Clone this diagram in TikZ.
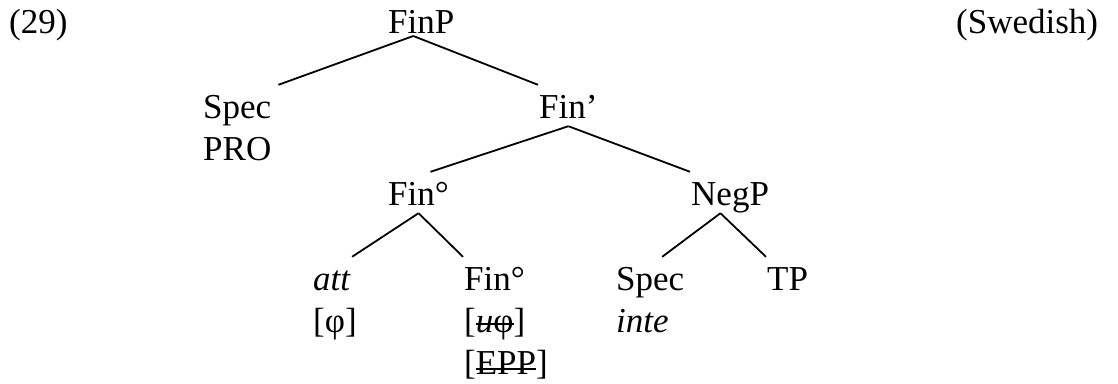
\documentclass[tikz,border=0pt]{standalone}
\usepackage{fontspec}
\setmainfont{Liberation Serif}
\usetikzlibrary{positioning}
\newsavebox{\strkbox}
\newcommand{\strk}[2][0.2em]{\sbox{\strkbox}{#2}\rlap{\rule[#1]{\wd\strkbox}{1.8pt}}\usebox{\strkbox}}

\begin{document}
\begin{tikzpicture}[x=1pt, y=-1pt,
            lbl/.style = {inner sep=1pt, text height=32pt, text depth=7pt,
                anchor=base west, font=\fontsize{35}{42}\selectfont},
            sub/.style = {below=42pt of #1, anchor=base west},
            branch/.style = {draw, line width=1.8pt}]
            \useasboundingbox (0,0) rectangle (1118,383);
            \node[lbl] (num) at (8,33) {(29)};
            \node[lbl] (lang) at (955,33) {(Swedish)};
            \node[lbl] (finp) at (387,33) {FinP};
            \node[lbl] (spec1) at (202,118) {Spec};
            \node[lbl, sub=spec1.base west] (pro) {PRO};
            \node[lbl] (fin1) at (538,118) {Fin’};
            \node[lbl] (fin0) at (387,205) {Fin°};
            \node[lbl] (negp) at (690,205) {NegP};
            \node[lbl] (att) at (312,290) {\textit{att}};
            \node[lbl, sub=att.base west] (phi) {[φ]};
            \node[lbl] (fin00) at (463,290) {Fin°};
            \node[lbl, sub=fin00.base west] (uphi) {[\strk{\textit{u}φ}]};
            \node[lbl, sub=uphi.base west] (epp) {[\strk[0.12em]{EPP}]};
            \node[lbl] (spec2) at (615,290) {Spec};
            \node[lbl, sub=spec2.base west] (inte) {\textit{inte}};
            \node[lbl] (tp) at (766,290) {TP};
            \path[branch]
                ([shift={(-8,3)}]finp.base) edge ([xshift=6pt]spec1.north east)
                ([shift={(-8,3)}]finp.base) edge (fin1.north west)
                (fin1.south) edge (fin0.60)
                (fin1.south) edge (negp.north west)
                (fin0.south) edge (att.north east)
                (fin0.south) edge (fin00.north west)
                (negp.-115) edge (spec2.60)
                (negp.-115) edge (tp.north west);
        \end{tikzpicture}
\end{document}
